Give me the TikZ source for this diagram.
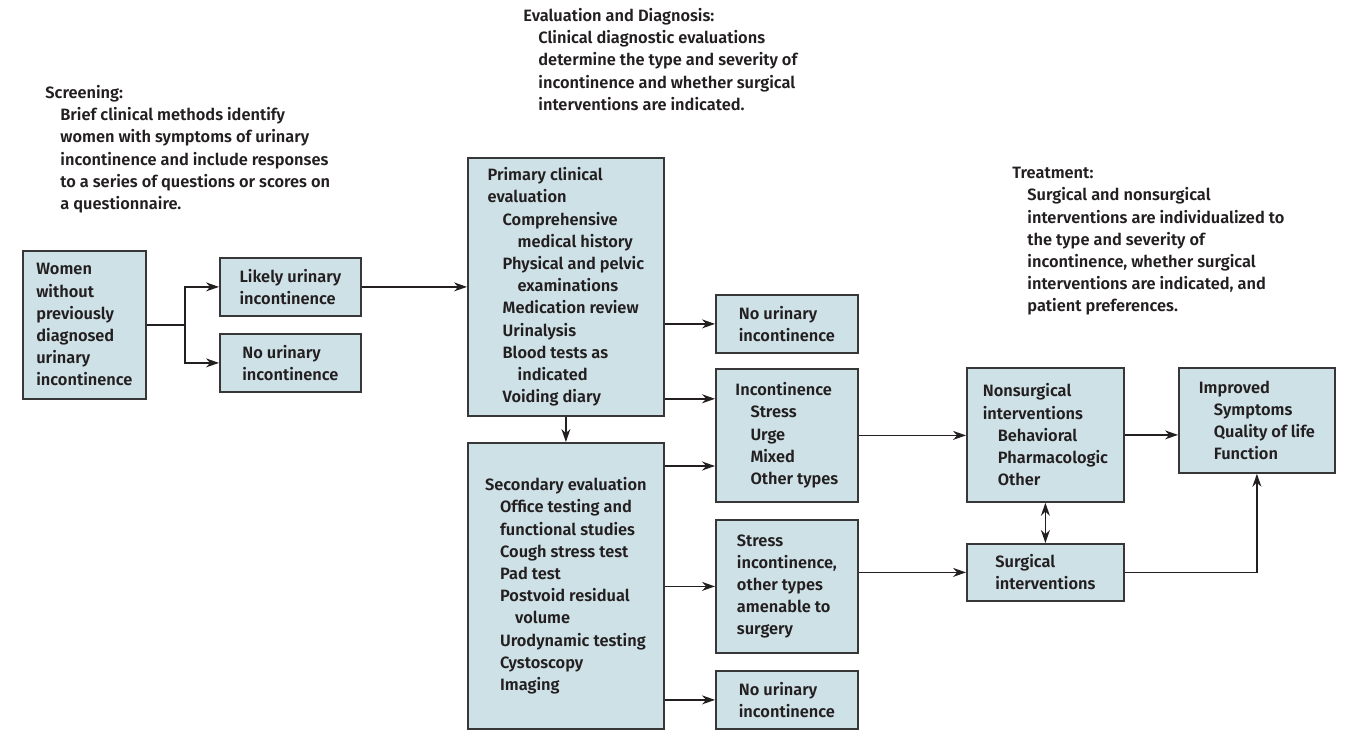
\documentclass[tikz,border=0pt]{standalone}
\usepackage{fontspec}
\setmainfont{Fira Sans SemiBold}
\usetikzlibrary{arrows.meta,positioning}

\definecolor{boxfill}{RGB}{205,225,230}
\definecolor{boxline}{RGB}{55,55,55}
\definecolor{ink}{RGB}{35,31,32}
\newcommand{\ind}{\hspace*{7.5pt}}
\newcommand{\indd}{\hspace*{15pt}}

\begin{document}
\begin{tikzpicture}[
x=0.5pt,y=-0.5pt,
font=\fontsize{8.2}{11.1}\selectfont, text=ink,
>={Stealth[length=6.5pt,width=4.5pt]},
box/.style={draw=boxline, fill=boxfill, line width=0.9pt, anchor=north west, align=left, inner sep=0pt},
note/.style={anchor=north west, align=left, inner sep=0pt},
link/.style={draw=ink, line width=0.7pt, ->},
]
\useasboundingbox (0,0) rectangle (1348,738);

% notes above the columns
\node[note] (screen) at (45,85) {Screening:\\\ind Brief clinical methods identify\\\ind women with symptoms of urinary\\\ind incontinence and include responses\\\ind to a series of questions or scores on\\\ind a questionnaire.};
\node[note] (diag) at (523,8) {Evaluation and Diagnosis:\\\ind Clinical diagnostic evaluations\\\ind determine the type and severity of\\\ind incontinence and whether surgical\\\ind interventions are indicated.};
\node[note] (treat) at (1012,167) {Treatment:\\\ind Surgical and nonsurgical\\\ind interventions are individualized to\\\ind the type and severity of\\\ind incontinence, whether surgical\\\ind interventions are indicated, and\\\ind patient preferences.};

% screening
\node[box, minimum width=61.5pt, minimum height=74pt] (women) at (22,250) {Women\\without\\previously\\diagnosed\\urinary\\incontinence};
\node[box, minimum width=70.5pt, minimum height=29pt] (likely) at (219,257) {Likely urinary\\incontinence};
\node[box, minimum width=70.5pt, minimum height=29pt] (noscreen) at (219,333) {No urinary\\incontinence};

% evaluation
\node[box, minimum width=98pt, minimum height=129pt] (primary) at (467,157) {Primary clinical\\evaluation\\\ind Comprehensive\\\indd medical history\\\ind Physical and pelvic\\\indd examinations\\\ind Medication review\\\ind Urinalysis\\\ind Blood tests as\\\indd indicated\\\ind Voiding diary};
\node[box, minimum width=98pt, minimum height=143pt] (secondary) at (467,442) {Secondary evaluation\\\ind Office testing and\\\ind functional studies\\\ind Cough stress test\\\ind Pad test\\\ind Postvoid residual\\\indd volume\\\ind Urodynamic testing\\\ind Cystoscopy\\\ind Imaging};

% diagnosis
\node[box, minimum width=71pt, minimum height=29pt] (nonea) at (715,294) {No urinary\\incontinence};
\node[box, minimum width=71pt, minimum height=66.5pt] (incont) at (715,368) {Incontinence\\\ind Stress\\\ind Urge\\\ind Mixed\\\ind Other types};
\node[box, minimum width=71pt, minimum height=66.5pt] (stressbox) at (715,519) {Stress\\incontinence,\\other types\\amenable to\\surgery};
\node[box, minimum width=71pt, minimum height=29pt] (noneb) at (715,670) {No urinary\\incontinence};

% treatment
\node[box, minimum width=78.5pt, minimum height=67pt] (nonsurg) at (966,367) {Nonsurgical\\interventions\\\ind Behavioral\\\ind Pharmacologic\\\ind Other};
\node[box, minimum width=78.5pt, minimum height=28.5pt] (surg) at (966,543) {Surgical\\interventions};
\node[box, minimum width=78pt, minimum height=52.5pt] (improved) at (1178,367) {Improved\\\ind Symptoms\\\ind Quality of life\\\ind Function};

% connectors
\coordinate (split) at ([xshift=19pt]women.east);
\draw[link] (women.east) -- (split) |- (likely.west);
\draw[link] (split) |- (noscreen.west);
\draw[link] (likely.east) -- (likely.east -| primary.west);
\draw[link] (primary.east |- nonea.west) -- (nonea.west);
\coordinate (pa) at ([yshift=9pt]primary.south east);
\draw[link] (pa) -- (pa -| incont.west);
\draw[link] (primary.south) -- (secondary.north);
\coordinate (sa) at ([yshift=-12pt]secondary.north east);
\draw[link] (sa) -- (sa -| incont.west);
\draw[link] (secondary.east |- stressbox.west) -- (stressbox.west);
\draw[link] (secondary.east |- noneb.west) -- (noneb.west);
\draw[link] (incont.east) -- (incont.east -| nonsurg.west);
\draw[link] (nonsurg.east) -- (nonsurg.east -| improved.west);
\draw[link, <->] (nonsurg.south) -- (surg.north);
\draw[link] (stressbox.east |- surg.west) -- (surg.west);
\draw[link] (surg.east) -| (improved.south);
\end{tikzpicture}
\end{document}
